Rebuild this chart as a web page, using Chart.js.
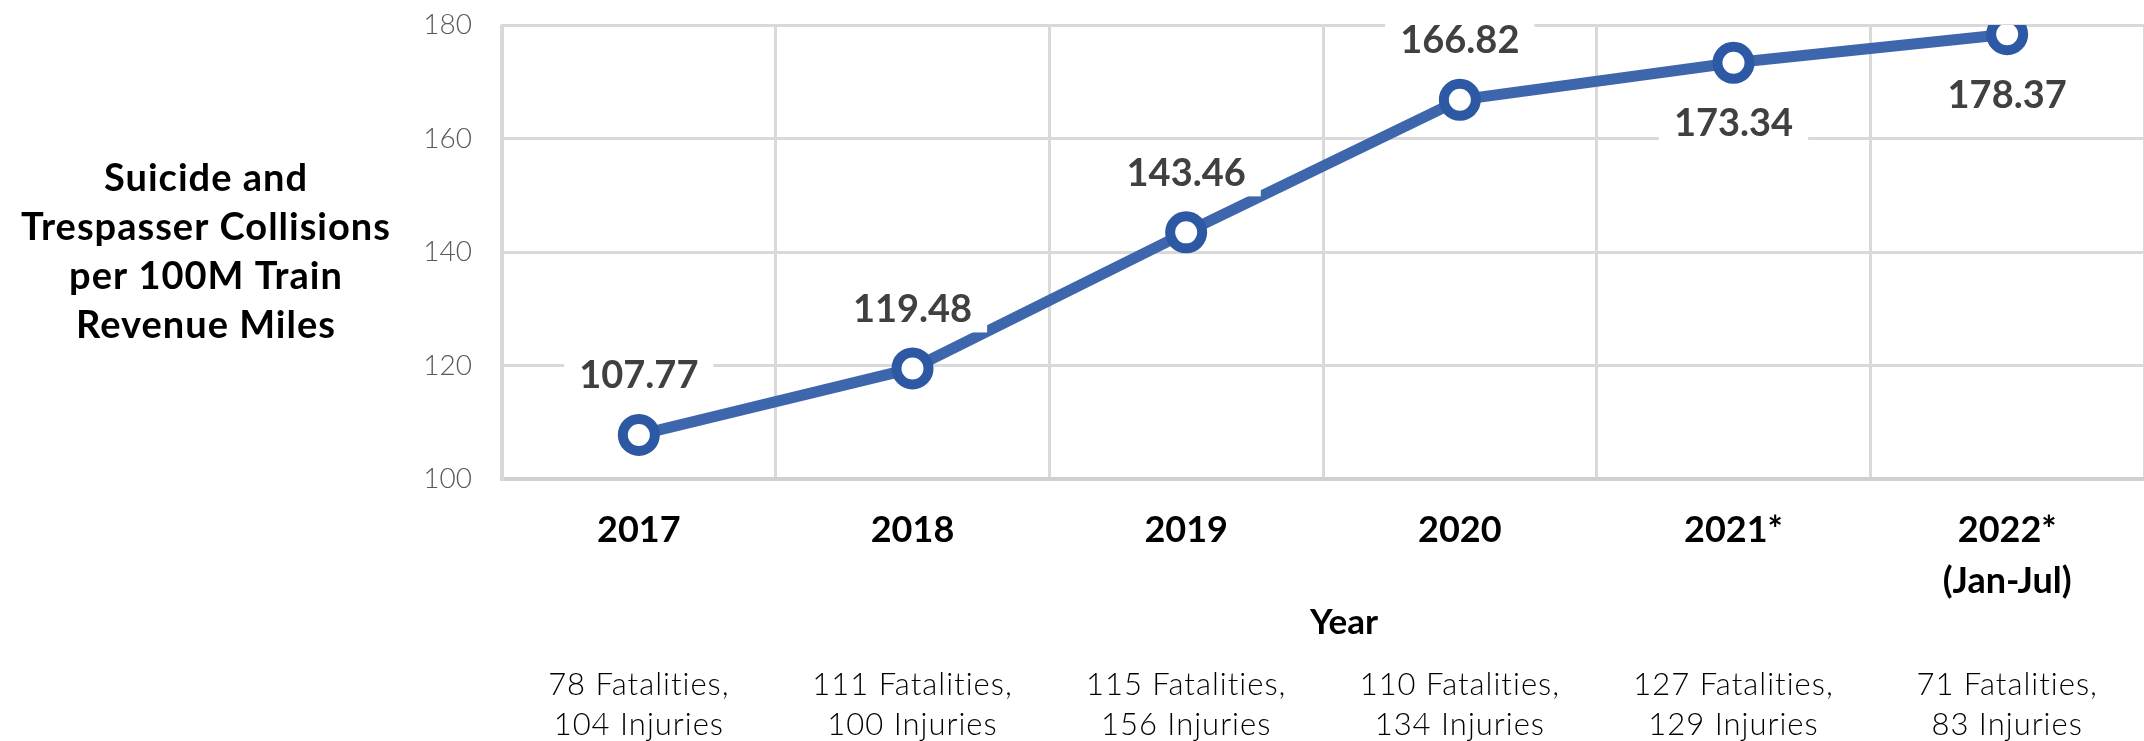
<!DOCTYPE html>
<html>
<head>
<meta charset="utf-8">
<script src="https://cdn.jsdelivr.net/npm/chart.js@4"></script>
<style>
  html, body { margin: 0; padding: 0; background: #fff; }
  #wrap { width: 2144px; height: 741px; }
</style>
</head>
<body>
<div id="wrap"><canvas id="chart" width="2144" height="741"></canvas></div>
<script>
// chart data
const years = [['2017'], ['2018'], ['2019'], ['2020'], ['2021*'], ['2022*', '(Jan-Jul)']];
const rates = [107.77, 119.48, 143.46, 166.82, 173.34, 178.37];
const notes = [
  ['78 Fatalities,', '104 Injuries'],
  ['111 Fatalities,', '100 Injuries'],
  ['115 Fatalities,', '156 Injuries'],
  ['110 Fatalities,', '134 Injuries'],
  ['127 Fatalities,', '129 Injuries'],
  ['71 Fatalities,', '83 Injuries']
];
const labelSide = ['above', 'above', 'above', 'above', 'below', 'below'];
const yTitle = ['Suicide and', 'Trespasser Collisions', 'per 100M Train', 'Revenue Miles'];
const xTitle = 'Year';

const FONT = "Lato, 'Open Sans', 'Liberation Sans', sans-serif";
const BLUE = '#3e66ad';
const GRID = '#d9d9d9';

// draws the horizontal y title, the "Year" title, the value labels and the notes row
const extras = {
  id: 'extras',
  afterDatasetsDraw(chart) {
    const { ctx, chartArea, scales } = chart;
    const meta = chart.getDatasetMeta(0);
    ctx.save();

    // value labels with white boxes
    ctx.font = `bold 38px ${FONT}`;
    ctx.textAlign = 'center';
    ctx.textBaseline = 'middle';
    meta.data.forEach((pt, i) => {
      const txt = rates[i].toFixed(2);
      const w = ctx.measureText(txt).width + 30;
      const cy = labelSide[i] === 'above' ? pt.y - 60 : pt.y + 60;
      ctx.fillStyle = '#fff';
      ctx.fillRect(pt.x - w / 2, cy - 24, w, 48);
      ctx.fillStyle = '#404040';
      ctx.fillText(txt, pt.x, cy + 1);
    });

    // y title
    ctx.fillStyle = '#000';
    ctx.font = `bold 38px ${FONT}`;
    ctx.letterSpacing = '1px';
    const midY = (chartArea.top + chartArea.bottom) / 2;
    yTitle.forEach((line, i) => {
      ctx.fillText(line, 206, midY + (i - 1.5) * 49);
    });

    // x title
    ctx.font = `bold 35px ${FONT}`;
    ctx.letterSpacing = '0px';
    ctx.fillText(xTitle, 1344, 623);

    // notes under each year
    ctx.font = `300 31px ${FONT}`;
    ctx.letterSpacing = '1px';
    ctx.fillStyle = '#000';
    notes.forEach((pair, i) => {
      const x = scales.x.getPixelForValue(i);
      ctx.fillText(pair[0], x, 685);
      ctx.fillText(pair[1], x, 725);
    });

    ctx.restore();
  }
};

new Chart(document.getElementById('chart'), {
  type: 'line',
  data: {
    labels: years,
    datasets: [{
      data: rates,
      borderColor: BLUE,
      borderWidth: 11,
      pointRadius: 16,
      pointHoverRadius: 16,
      pointBorderWidth: 10,
      pointBorderColor: '#2d58a3',
      pointBackgroundColor: '#fff',
      tension: 0
    }]
  },
  options: {
    responsive: false,
    animation: false,
    events: [],
    layout: { autoPadding: false, padding: { top: 25, right: -10, left: 0, bottom: 0 } },
    plugins: { legend: { display: false }, tooltip: { enabled: false } },
    scales: {
      x: {
        offset: true,
        grid: { offset: true, color: GRID, lineWidth: 3, drawTicks: false },
        border: { color: '#d0d0d0', width: 4 },
        ticks: {
          color: '#000',
          font: { family: FONT, size: 36, weight: 'bold', lineHeight: 1.42 },
          padding: 26,
          maxRotation: 0
        },
        afterFit(scale) {
          scale.height = 262;
          scale.paddingLeft = 0;
          scale.paddingRight = 0;
        }
      },
      y: {
        min: 100,
        max: 180,
        grid: { color: GRID, lineWidth: 3, drawTicks: false },
        border: { color: GRID, width: 3 },
        ticks: {
          stepSize: 20,
          color: '#595959',
          font: { family: FONT, size: 28, weight: '300' },
          padding: 30
        },
        afterFit(scale) {
          scale.width = 502;
          scale.paddingTop = 0;
          scale.paddingBottom = 0;
        }
      }
    }
  },
  plugins: [extras]
});
</script>
</body>
</html>
